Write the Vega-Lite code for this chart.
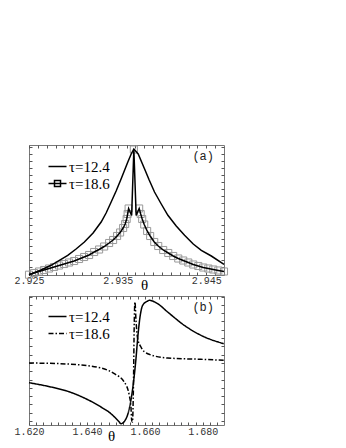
{
  "$schema": "https://vega.github.io/schema/vega-lite/v6.json",
  "padding": {"left": 13, "top": 143, "right": 0, "bottom": 0},
  "background": "white",
  "bounds": "flush",
  "spacing": 21,
  "resolve": {"legend": {"shape": "independent", "strokeDash": "independent"}},
  "config": {
    "view": {"stroke": "#777", "strokeWidth": 1},
    "axis": {"grid": false, "domain": false, "tickColor": "#555", "tickWidth": 1, "labelFont": "Liberation Mono", "labelFontSize": 10, "labelColor": "#333", "labelFlush": false, "labelOverlap": false, "titleFont": "Liberation Serif", "titleFontSize": 15, "titleFontWeight": "normal", "titleColor": "black"},
    "legend": {"padding": 0, "labelFont": "Liberation Serif", "labelFontSize": 15, "labelColor": "black", "rowPadding": 0, "labelOffset": 3}
  },
  "datasets": {
    "a": [
      {"theta": 2.925, "y": 0.3, "tau": "τ=12.4"},
      {"theta": 2.92636, "y": 5, "tau": "τ=12.4"},
      {"theta": 2.92749, "y": 9.7, "tau": "τ=12.4"},
      {"theta": 2.92937, "y": 19.7, "tau": "τ=12.4"},
      {"theta": 2.93031, "y": 26, "tau": "τ=12.4"},
      {"theta": 2.93125, "y": 33, "tau": "τ=12.4"},
      {"theta": 2.93223, "y": 42, "tau": "τ=12.4"},
      {"theta": 2.93314, "y": 53, "tau": "τ=12.4"},
      {"theta": 2.9337, "y": 62, "tau": "τ=12.4"},
      {"theta": 2.93427, "y": 73, "tau": "τ=12.4"},
      {"theta": 2.93483, "y": 84, "tau": "τ=12.4"},
      {"theta": 2.9354, "y": 96.3, "tau": "τ=12.4"},
      {"theta": 2.93615, "y": 113, "tau": "τ=12.4"},
      {"theta": 2.93653, "y": 121, "tau": "τ=12.4"},
      {"theta": 2.93683, "y": 126, "tau": "τ=12.4"},
      {"theta": 2.93732, "y": 121, "tau": "τ=12.4"},
      {"theta": 2.93803, "y": 106.3, "tau": "τ=12.4"},
      {"theta": 2.93856, "y": 95, "tau": "τ=12.4"},
      {"theta": 2.93916, "y": 83, "tau": "τ=12.4"},
      {"theta": 2.93992, "y": 71, "tau": "τ=12.4"},
      {"theta": 2.94067, "y": 59.7, "tau": "τ=12.4"},
      {"theta": 2.94161, "y": 49, "tau": "τ=12.4"},
      {"theta": 2.94255, "y": 39.7, "tau": "τ=12.4"},
      {"theta": 2.94353, "y": 31, "tau": "τ=12.4"},
      {"theta": 2.94444, "y": 24.7, "tau": "τ=12.4"},
      {"theta": 2.94557, "y": 19, "tau": "τ=12.4"},
      {"theta": 2.947, "y": 10.7, "tau": "τ=12.4"},
      {"theta": 2.925, "y": 0.3, "tau": "τ=18.6"},
      {"theta": 2.92557, "y": 2, "tau": "τ=18.6"},
      {"theta": 2.92613, "y": 3.5, "tau": "τ=18.6"},
      {"theta": 2.9267, "y": 5, "tau": "τ=18.6"},
      {"theta": 2.92726, "y": 6.5, "tau": "τ=18.6"},
      {"theta": 2.92783, "y": 8, "tau": "τ=18.6"},
      {"theta": 2.92839, "y": 9.5, "tau": "τ=18.6"},
      {"theta": 2.92896, "y": 11, "tau": "τ=18.6"},
      {"theta": 2.92952, "y": 12.5, "tau": "τ=18.6"},
      {"theta": 2.93009, "y": 14, "tau": "τ=18.6"},
      {"theta": 2.93065, "y": 16, "tau": "τ=18.6"},
      {"theta": 2.93122, "y": 18, "tau": "τ=18.6"},
      {"theta": 2.93178, "y": 20, "tau": "τ=18.6"},
      {"theta": 2.93235, "y": 23, "tau": "τ=18.6"},
      {"theta": 2.93291, "y": 25.5, "tau": "τ=18.6"},
      {"theta": 2.93348, "y": 28.5, "tau": "τ=18.6"},
      {"theta": 2.93404, "y": 32, "tau": "τ=18.6"},
      {"theta": 2.93449, "y": 35, "tau": "τ=18.6"},
      {"theta": 2.93494, "y": 39, "tau": "τ=18.6"},
      {"theta": 2.93528, "y": 42.5, "tau": "τ=18.6"},
      {"theta": 2.93562, "y": 47, "tau": "τ=18.6"},
      {"theta": 2.93585, "y": 51, "tau": "τ=18.6"},
      {"theta": 2.93602, "y": 56, "tau": "τ=18.6"},
      {"theta": 2.93613, "y": 61, "tau": "τ=18.6"},
      {"theta": 2.93624, "y": 66.5, "tau": "τ=18.6"},
      {"theta": 2.93658, "y": 59.5, "tau": "τ=18.6"},
      {"theta": 2.93683, "y": 125.5, "tau": "τ=18.6"},
      {"theta": 2.93709, "y": 59.5, "tau": "τ=18.6"},
      {"theta": 2.93743, "y": 66.5, "tau": "τ=18.6"},
      {"theta": 2.9376, "y": 61, "tau": "τ=18.6"},
      {"theta": 2.93777, "y": 56, "tau": "τ=18.6"},
      {"theta": 2.938, "y": 50.5, "tau": "τ=18.6"},
      {"theta": 2.93833, "y": 44, "tau": "τ=18.6"},
      {"theta": 2.93867, "y": 39, "tau": "τ=18.6"},
      {"theta": 2.93913, "y": 33, "tau": "τ=18.6"},
      {"theta": 2.93958, "y": 29, "tau": "τ=18.6"},
      {"theta": 2.94014, "y": 25, "tau": "τ=18.6"},
      {"theta": 2.94071, "y": 22, "tau": "τ=18.6"},
      {"theta": 2.94127, "y": 19, "tau": "τ=18.6"},
      {"theta": 2.94184, "y": 16.5, "tau": "τ=18.6"},
      {"theta": 2.9424, "y": 14.5, "tau": "τ=18.6"},
      {"theta": 2.94297, "y": 12.5, "tau": "τ=18.6"},
      {"theta": 2.94353, "y": 10.5, "tau": "τ=18.6"},
      {"theta": 2.9441, "y": 9, "tau": "τ=18.6"},
      {"theta": 2.94466, "y": 7.5, "tau": "τ=18.6"},
      {"theta": 2.94523, "y": 6.5, "tau": "τ=18.6"},
      {"theta": 2.94579, "y": 5.5, "tau": "τ=18.6"},
      {"theta": 2.94636, "y": 4.5, "tau": "τ=18.6"},
      {"theta": 2.947, "y": 3.5, "tau": "τ=18.6"}
    ],
    "b": [
      {"theta": 1.62, "y": 42.3, "tau": "τ=12.4"},
      {"theta": 1.62759, "y": 38, "tau": "τ=12.4"},
      {"theta": 1.63335, "y": 33.7, "tau": "τ=12.4"},
      {"theta": 1.63908, "y": 27, "tau": "τ=12.4"},
      {"theta": 1.64484, "y": 18, "tau": "τ=12.4"},
      {"theta": 1.64829, "y": 11.3, "tau": "τ=12.4"},
      {"theta": 1.65115, "y": 3, "tau": "τ=12.4"},
      {"theta": 1.6517, "y": 1.3, "tau": "τ=12.4"},
      {"theta": 1.65288, "y": 3.5, "tau": "τ=12.4"},
      {"theta": 1.6546, "y": 16.3, "tau": "τ=12.4"},
      {"theta": 1.65578, "y": 36.3, "tau": "τ=12.4"},
      {"theta": 1.65692, "y": 66.3, "tau": "τ=12.4"},
      {"theta": 1.6575, "y": 86.3, "tau": "τ=12.4"},
      {"theta": 1.6584, "y": 109.7, "tau": "τ=12.4"},
      {"theta": 1.65923, "y": 119.7, "tau": "τ=12.4"},
      {"theta": 1.66095, "y": 124, "tau": "τ=12.4"},
      {"theta": 1.6615, "y": 124.7, "tau": "τ=12.4"},
      {"theta": 1.6644, "y": 121.3, "tau": "τ=12.4"},
      {"theta": 1.66785, "y": 113, "tau": "τ=12.4"},
      {"theta": 1.67358, "y": 99.7, "tau": "τ=12.4"},
      {"theta": 1.67934, "y": 89.7, "tau": "τ=12.4"},
      {"theta": 1.6872, "y": 81.3, "tau": "τ=12.4"},
      {"theta": 1.62, "y": 62, "tau": "τ=18.6"},
      {"theta": 1.63335, "y": 61, "tau": "τ=18.6"},
      {"theta": 1.64484, "y": 57, "tau": "τ=18.6"},
      {"theta": 1.64943, "y": 51.3, "tau": "τ=18.6"},
      {"theta": 1.65288, "y": 43, "tau": "τ=18.6"},
      {"theta": 1.6546, "y": 29.7, "tau": "τ=18.6"},
      {"theta": 1.65519, "y": 18, "tau": "τ=18.6"},
      {"theta": 1.65543, "y": 5, "tau": "τ=18.6"},
      {"theta": 1.65571, "y": 3, "tau": "τ=18.6"},
      {"theta": 1.65605, "y": 40, "tau": "τ=18.6"},
      {"theta": 1.65633, "y": 103, "tau": "τ=18.6"},
      {"theta": 1.65657, "y": 123, "tau": "τ=18.6"},
      {"theta": 1.65692, "y": 105, "tau": "τ=18.6"},
      {"theta": 1.6575, "y": 86.3, "tau": "τ=18.6"},
      {"theta": 1.65864, "y": 78, "tau": "τ=18.6"},
      {"theta": 1.66095, "y": 71.3, "tau": "τ=18.6"},
      {"theta": 1.66785, "y": 67, "tau": "τ=18.6"},
      {"theta": 1.67934, "y": 65.7, "tau": "τ=18.6"},
      {"theta": 1.6872, "y": 64.7, "tau": "τ=18.6"}
    ],
    "keys": [
      {"tau": "τ=12.4"},
      {"tau": "τ=18.6"}
    ]
  },
  "vconcat": [
    {
      "width": 195,
      "height": 130,
      "title": {"text": "(a)", "orient": "top", "anchor": "end", "frame": "group", "offset": -28, "dx": -10, "font": "Liberation Mono", "fontSize": 12, "fontWeight": "normal", "color": "#222", "baseline": "alphabetic"},
      "resolve": {"axis": {"x": "independent", "y": "independent"}},
      "layer": [
        {
          "data": {"name": "a"},
          "transform": [{"filter": "datum.tau == 'τ=18.6' && datum.theta != 2.93658 && datum.theta != 2.93709"}],
          "mark": {"type": "point", "shape": "square", "filled": false, "stroke": "#999", "strokeWidth": 1, "size": 50, "opacity": 1},
          "encoding": {
            "x": {"field": "theta", "type": "quantitative", "scale": {"domain": [2.925, 2.947], "nice": false, "zero": false},
              "axis": {"orient": "top", "values": [2.925, 2.926, 2.927, 2.928, 2.929, 2.93, 2.931, 2.932, 2.933, 2.934, 2.935, 2.936, 2.937, 2.938, 2.939, 2.94, 2.941, 2.942, 2.943, 2.944, 2.945, 2.946], "labels": false, "title": null, "tickSize": -3}},
            "y": {"field": "y", "type": "quantitative", "scale": {"domain": [0, 130], "nice": false, "zero": false},
              "axis": {"orient": "right", "values": [0.5, 7.6, 14.7, 21.8, 28.9, 36, 43.1, 50.2, 57.3, 64.4, 71.5, 78.6, 85.7, 92.8, 99.9, 107, 114.1, 121.2, 128.3], "labels": false, "title": null, "tickSize": -3}}
          }
        },
        {
          "data": {"name": "a"},
          "mark": {"type": "line", "color": "black", "strokeWidth": 1.5},
          "encoding": {
            "x": {"field": "theta", "type": "quantitative", "scale": {"domain": [2.925, 2.947], "nice": false, "zero": false},
              "axis": {"orient": "bottom", "values": [2.925, 2.926, 2.927, 2.928, 2.929, 2.93, 2.931, 2.932, 2.933, 2.934, 2.935, 2.936, 2.937, 2.938, 2.939, 2.94, 2.941, 2.942, 2.943, 2.944, 2.945, 2.946], "format": ".3f",
                "labelExpr": "(datum.label == '2.925' || datum.label == '2.935' || datum.label == '2.945') ? datum.label : ''",
                "tickSize": -3, "labelPadding": 3, "title": "θ", "titleX": 115, "titleY": 14, "titleAlign": "center", "titleBaseline": "alphabetic"}},
            "y": {"field": "y", "type": "quantitative", "scale": {"domain": [0, 130], "nice": false, "zero": false},
              "axis": {"orient": "left", "values": [0.5, 7.6, 14.7, 21.8, 28.9, 36, 43.1, 50.2, 57.3, 64.4, 71.5, 78.6, 85.7, 92.8, 99.9, 107, 114.1, 121.2, 128.3], "labels": false, "title": null, "tickSize": -3}},
            "detail": {"field": "tau", "type": "nominal"}
          }
        },
        {
          "data": {"name": "keys"},
          "mark": {"type": "point", "opacity": 0, "filled": false, "stroke": "black"},
          "encoding": {
            "shape": {"field": "tau", "type": "nominal",
              "scale": {"domain": ["τ=12.4", "τ=18.6"], "range": ["M-1.2,0H1.2", "M-1.2,0H1.2M-0.4,-0.4H0.4V0.4H-0.4Z"]},
              "legend": {"title": null, "orient": "none", "legendX": 20, "legendY": 13, "symbolSize": 225, "symbolStrokeWidth": 1.5, "symbolStrokeColor": "black", "symbolFillColor": "transparent", "symbolOpacity": 1,
                "encode": {"symbols": {"update": {"opacity": {"value": 1}, "strokeOpacity": {"value": 1}}}}}}
          }
        }
      ]
    },
    {
      "width": 195,
      "height": 129,
      "title": {"text": "(b)", "orient": "top", "anchor": "end", "frame": "group", "offset": -27, "dx": -10, "font": "Liberation Mono", "fontSize": 12, "fontWeight": "normal", "color": "#222", "baseline": "alphabetic"},
      "resolve": {"axis": {"x": "independent", "y": "independent"}},
      "layer": [
        {
          "data": {"name": "b"},
          "mark": {"type": "point", "opacity": 0},
          "encoding": {
            "x": {"field": "theta", "type": "quantitative", "scale": {"domain": [1.62, 1.6873], "nice": false, "zero": false},
              "axis": {"orient": "top", "values": [1.62, 1.6225, 1.625, 1.6275, 1.63, 1.6325, 1.635, 1.6375, 1.64, 1.6425, 1.645, 1.6475, 1.65, 1.6525, 1.655, 1.6575, 1.66, 1.6625, 1.665, 1.6675, 1.67, 1.6725, 1.675, 1.6775, 1.68, 1.6825, 1.685], "labels": false, "title": null, "tickSize": -3}},
            "y": {"field": "y", "type": "quantitative", "scale": {"domain": [0, 129], "nice": false, "zero": false},
              "axis": {"orient": "right", "values": [4, 12.3, 20.6, 28.9, 37.2, 45.5, 53.8, 62.1, 70.4, 78.7, 87, 95.3, 103.6, 111.9, 120.2, 128.5], "labels": false, "title": null, "tickSize": -3}}
          }
        },
        {
          "data": {"name": "b"},
          "mark": {"type": "line", "color": "black", "strokeWidth": 1.5, "interpolate": "monotone"},
          "encoding": {
            "x": {"field": "theta", "type": "quantitative", "scale": {"domain": [1.62, 1.6873], "nice": false, "zero": false},
              "axis": {"orient": "bottom", "values": [1.62, 1.6225, 1.625, 1.6275, 1.63, 1.6325, 1.635, 1.6375, 1.64, 1.6425, 1.645, 1.6475, 1.65, 1.6525, 1.655, 1.6575, 1.66, 1.6625, 1.665, 1.6675, 1.67, 1.6725, 1.675, 1.6775, 1.68, 1.6825, 1.685], "format": ".3f",
                "labelExpr": "(datum.label == '1.620' || datum.label == '1.640' || datum.label == '1.660' || datum.label == '1.680') ? datum.label : ''",
                "tickSize": -3, "labelPadding": 4, "title": "θ", "titleX": 82, "titleY": 15, "titleAlign": "center", "titleBaseline": "alphabetic"}},
            "y": {"field": "y", "type": "quantitative", "scale": {"domain": [0, 129], "nice": false, "zero": false},
              "axis": {"orient": "left", "values": [4, 12.3, 20.6, 28.9, 37.2, 45.5, 53.8, 62.1, 70.4, 78.7, 87, 95.3, 103.6, 111.9, 120.2, 128.5], "labels": false, "title": null, "tickSize": -3}},
            "strokeDash": {"field": "tau", "type": "nominal",
              "scale": {"domain": ["τ=12.4", "τ=18.6"], "range": [[1, 0], [5, 2, 1.5, 2]]},
              "legend": {"title": null, "orient": "none", "legendX": 20, "legendY": 12, "symbolType": "M-1.2,0H1.2", "symbolSize": 225, "symbolStrokeWidth": 1.5, "symbolStrokeColor": "black"}}
          }
        }
      ]
    }
  ]
}
